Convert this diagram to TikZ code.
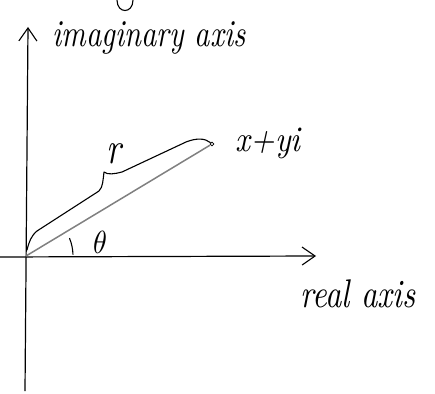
\documentclass[tikz,border=0pt]{standalone}
\usetikzlibrary{arrows.meta}
\begin{document}
\begin{tikzpicture}[x=1pt,y=-1pt,
  axisline/.style={line width=1.2pt,-{Straight Barb[length=13pt,width=18pt,line width=1.1pt]}},
  pen/.style={line width=1.1pt,line cap=round,line join=round},
  hand/.style={inner sep=0pt,font=\itshape}]
\useasboundingbox (0,0) rectangle (435,393);
% partial stroke at top edge
\draw[pen] (117,0) .. controls (117,14) and (133,14) .. (133,0);
% axes
\coordinate (O) at (26,256);
\coordinate (vb) at (25,391);
\coordinate (vt) at (28,27);
\coordinate (hl) at (0,257);
\coordinate (hr) at (316,256);
\draw[axisline] (vb) -- (vt);
\draw[axisline] (hl) -- (hr);
% point and radius
\node[circle,draw,line width=0.8pt,inner sep=1.3pt] (P) at (212,144) {};
\draw[line width=1.5pt,gray] (O) -- (P);
% brace
\draw[pen] (27,250) .. controls (29,242) and (31,236) .. (37,231) -- (99,191)
  .. controls (103,187) and (103,180) .. (104,172)
  .. controls (108,175) and (114,174) .. (122,172) -- (186,142)
  .. controls (196,138) and (205,138) .. (P);
% angle arc
\draw[pen] (O) ++(-2:47) arc[start angle=-2,end angle=-22,radius=47];
% labels
\node[hand,xscale=2.8,yscale=3.2] (th) at (100,242) {$\theta$};
\node[hand,xscale=3.5,yscale=4.5,anchor=base west] (r) at (106,163) {r};
\node[hand,xscale=3.2,yscale=3.6,anchor=base west] (z) at (235,151) {x+yi};
\node[hand,xscale=3,yscale=3.8,anchor=base west] (ia) at (52,47) {imaginary axis};
\node[hand,xscale=3.2,yscale=4,anchor=base west] (ra) at (300,307) {real axis};
\end{tikzpicture}
\end{document}
